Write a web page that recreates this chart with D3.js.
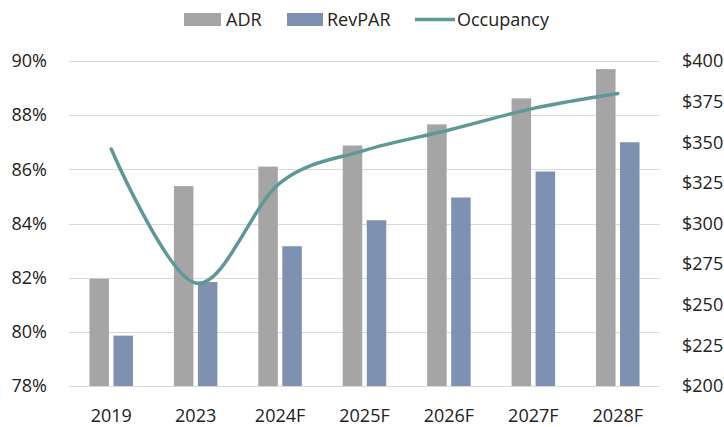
<!DOCTYPE html>
<html>
<head>
<meta charset="utf-8">
<script src="https://cdn.jsdelivr.net/npm/d3@7"></script>
<style>
  body { margin: 0; background: #fff; }
  svg text { font-family: "Open Sans", sans-serif; fill: #222; }
</style>
</head>
<body>
<div id="chart"></div>
<script>
const width = 724;
const height = 427;

// data
const years = ['2019', '2023', '2024F', '2025F', '2026F', '2027F', '2028F'];
const adr = [266, 323, 335, 348, 361, 377, 395];
const revpar = [231, 264, 286, 302, 316, 332, 350];
const occupancy = [86.75, 81.8, 85.5, 86.7, 87.45, 88.25, 88.8];
const leftTicks = [78, 80, 82, 84, 86, 88, 90];
const rightTicks = [200, 225, 250, 275, 300, 325, 350, 375, 400];

const margin = { top: 61, right: 64, bottom: 41, left: 69 };

const svg = d3.select('#chart').append('svg')
  .attr('width', width)
  .attr('height', height);

const x = d3.scaleBand()
  .domain(years)
  .range([margin.left, width - margin.right]);

const yLeft = d3.scaleLinear().domain([78, 90]).range([height - margin.bottom, margin.top]);
const yRight = d3.scaleLinear().domain([200, 400]).range([height - margin.bottom, margin.top]);

// gridlines
svg.append('g')
  .selectAll('line')
  .data(leftTicks)
  .enter()
  .append('line')
  .attr('x1', margin.left)
  .attr('x2', width - margin.right)
  .attr('y1', d => Math.round(yLeft(d)) + 0.5)
  .attr('y2', d => Math.round(yLeft(d)) + 0.5)
  .attr('stroke', '#d9d9d9')
  .attr('stroke-width', 1);

// bars
const barW = 19.5;
const gap = 4.5;

svg.append('g')
  .selectAll('rect')
  .data(adr)
  .enter()
  .append('rect')
  .attr('x', (d, i) => x(years[i]) + x.bandwidth() / 2 - gap / 2 - barW)
  .attr('y', d => yRight(d))
  .attr('width', barW)
  .attr('height', d => yRight(200) - yRight(d))
  .attr('fill', '#a5a5a5');

svg.append('g')
  .selectAll('rect')
  .data(revpar)
  .enter()
  .append('rect')
  .attr('x', (d, i) => x(years[i]) + x.bandwidth() / 2 + gap / 2)
  .attr('y', d => yRight(d))
  .attr('width', barW)
  .attr('height', d => yRight(200) - yRight(d))
  .attr('fill', '#7f91b0');

// occupancy line
const line = d3.line()
  .x((d, i) => x(years[i]) + x.bandwidth() / 2)
  .y(d => yLeft(d))
  .curve(d3.curveCardinal.tension(0));

svg.append('path')
  .datum(occupancy)
  .attr('d', line)
  .attr('fill', 'none')
  .attr('stroke', '#5f9898')
  .attr('stroke-width', 3.5)
  .attr('stroke-linecap', 'round');

// axes
const leftAxis = svg.append('g')
  .attr('transform', `translate(${margin.left}, 0)`)
  .call(d3.axisLeft(yLeft).tickValues(leftTicks).tickSize(0).tickPadding(22).tickFormat(d => d + '%'));

const rightAxis = svg.append('g')
  .attr('transform', `translate(${width - margin.right}, 0)`)
  .call(d3.axisRight(yRight).tickValues(rightTicks).tickSize(0).tickPadding(22).tickFormat(d => '$' + d));

const bottomAxis = svg.append('g')
  .attr('transform', `translate(0, ${height - margin.bottom})`)
  .call(d3.axisBottom(x).tickSize(0).tickPadding(23));

[leftAxis, rightAxis, bottomAxis].forEach(a => {
  a.select('.domain').remove();
  a.selectAll('text')
    .style('font-family', '"Open Sans", sans-serif')
    .style('font-size', '18px')
    .attr('fill', '#222');
});

// legend
const legend = svg.append('g');

legend.append('rect').attr('x', 184).attr('y', 13).attr('width', 37).attr('height', 13).attr('fill', '#a5a5a5');
legend.append('text').attr('x', 226).attr('y', 26).style('font-size', '18px').text('ADR');

legend.append('rect').attr('x', 287).attr('y', 13).attr('width', 36).attr('height', 13).attr('fill', '#7f91b0');
legend.append('text').attr('x', 327).attr('y', 26).style('font-size', '18px').text('RevPAR');

legend.append('line').attr('x1', 415).attr('x2', 455).attr('y1', 19.5).attr('y2', 19.5)
  .attr('stroke', '#5f9898').attr('stroke-width', 3.5);
legend.append('text').attr('x', 457).attr('y', 26).style('font-size', '18px').text('Occupancy');
</script>
</body>
</html>
